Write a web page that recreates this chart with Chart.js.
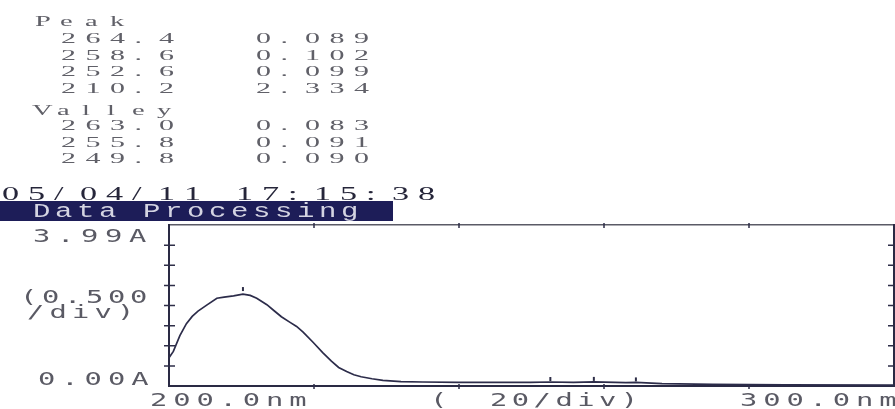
<!DOCTYPE html>
<html>
<head>
<meta charset="utf-8">
<script src="https://cdn.jsdelivr.net/npm/chart.js@4/dist/chart.umd.min.js"></script>
<style>
  body { margin: 0; background: #fff; }
  #wrap { position: relative; width: 895px; height: 409px; }
</style>
</head>
<body>
<div id="wrap"><canvas id="spec" width="895" height="409"></canvas></div>
<script>
// spectrum (nm, A)
const wavelengths = [200.0, 200.6, 201.5, 202.4, 203.2, 204.0, 205.2, 206.6, 207.6, 208.9, 210.2, 211.2, 212.1, 213.5, 214.5, 215.5, 216.7, 217.6, 218.5, 219.9, 221.2, 222.4, 223.4, 224.5, 225.5, 226.5, 228.0, 229.5, 232.0, 235.0, 240.0, 245.0, 249.8, 252.6, 255.8, 258.6, 263.0, 264.4, 268.0, 275.0, 285.0, 300.0]
const absorbance = [0.70, 0.86, 1.25, 1.55, 1.73, 1.86, 2.01, 2.18, 2.21, 2.24, 2.28, 2.25, 2.18, 2.02, 1.87, 1.72, 1.58, 1.48, 1.34, 1.08, 0.83, 0.62, 0.46, 0.36, 0.28, 0.23, 0.18, 0.14, 0.11, 0.10, 0.09, 0.09, 0.090, 0.099, 0.091, 0.102, 0.083, 0.089, 0.06, 0.04, 0.03, 0.02]

const peakNm = [264.4, 258.6, 252.6, 210.2]
const peakAbs = [0.089, 0.102, 0.099, 2.334]
const valleyNm = [263.0, 255.8, 249.8]
const valleyAbs = [0.083, 0.091, 0.090]

const stamp = '05/04/11 17:15:38'
const panelTitle = 'Data Processing'
const yTickLabels = ['3.99A', '(0.500', '/div)', '0.00A']
const xTickLabels = ['200.0nm', '(', '20/div)', '300.0nm']

// draw a string one char at a time on a fixed pitch (printer look)
function printText(ctx, str, x, y, font, pitch, sx, color) {
  ctx.save()
  ctx.font = font
  ctx.fillStyle = color
  ctx.textBaseline = 'alphabetic'
  for (let i = 0; i < str.length; i++) {
    ctx.save()
    ctx.translate(x + i * pitch, y)
    ctx.scale(sx, 1)
    ctx.fillText(str[i], 0, 0)
    ctx.restore()
  }
  ctx.restore()
}

const printout = {
  id: 'printout',
  afterDatasetsDraw(chart) {
    const ctx = chart.ctx
    const xs = chart.scales.x
    const ys = chart.scales.y
    const area = chart.chartArea
    ctx.save()
    ctx.strokeStyle = '#2e2e48'
    ctx.lineWidth = 1.5
    // y ticks, crossing the left axis and inside on the right
    for (let v = 0.5; v < 4; v += 0.5) {
      const py = ys.getPixelForValue(v)
      ctx.beginPath()
      ctx.moveTo(area.left - 5, py)
      ctx.lineTo(area.left + 6, py)
      ctx.moveTo(area.right - 6, py)
      ctx.lineTo(area.right, py)
      ctx.stroke()
    }
    // x ticks every 20 nm
    for (let w = 220; w < 300; w += 20) {
      const px = xs.getPixelForValue(w)
      ctx.beginPath()
      ctx.moveTo(px, area.top - 2)
      ctx.lineTo(px, area.top + 3)
      ctx.moveTo(px, area.bottom - 2)
      ctx.lineTo(px, area.bottom + 3)
      ctx.stroke()
    }
    // peak marks just above each peak
    ctx.lineWidth = 2
    peakNm.forEach((w, i) => {
      const px = xs.getPixelForValue(w)
      const py = ys.getPixelForValue(peakAbs[i])
      ctx.beginPath()
      ctx.moveTo(px, py - 5)
      ctx.lineTo(px, py - 1)
      ctx.stroke()
    })
    ctx.restore()
  },
  afterDraw(chart) {
    const ctx = chart.ctx
    const small = '15px "Liberation Serif"'
    const grey = '#606068'
    printText(ctx, 'Peak', 35, 26, small, 25, 1.9, grey)
    peakNm.forEach((w, i) => {
      const y = 43 + i * 16.5
      printText(ctx, w.toFixed(1), 61, y, small, 24.5, 2.0, grey)
      printText(ctx, peakAbs[i].toFixed(3), 256, y, small, 24.5, 2.0, grey)
    })
    printText(ctx, 'Valley', 32, 115, small, 25, 1.9, grey)
    valleyNm.forEach((w, i) => {
      const y = 130 + i * 16.5
      printText(ctx, w.toFixed(1), 61, y, small, 24.5, 2.0, grey)
      printText(ctx, valleyAbs[i].toFixed(3), 256, y, small, 24.5, 2.0, grey)
    })
    printText(ctx, stamp, 2, 200, '18px "Liberation Serif"', 26, 1.9, '#26263a')

    ctx.fillStyle = '#1d1d58'
    ctx.fillRect(0, 201, 393, 20)
    printText(ctx, panelTitle, 33, 217, '20px "Liberation Mono"', 22, 1.45, '#d4d4e2')

    const axisFont = '18px "DejaVu Sans Mono"'
    const axisCol = '#5a5a64'
    printText(ctx, yTickLabels[0], 33, 242, axisFont, 24, 1.6, axisCol)
    printText(ctx, yTickLabels[1], 20, 303, axisFont, 22, 1.6, axisCol)
    printText(ctx, yTickLabels[2], 27, 318, axisFont, 22.5, 1.6, axisCol)
    printText(ctx, yTickLabels[3], 38, 385, axisFont, 23.3, 1.6, axisCol)
    printText(ctx, xTickLabels[0], 150, 406, axisFont, 23.2, 1.6, axisCol)
    printText(ctx, xTickLabels[1], 430, 406, axisFont, 23, 1.6, axisCol)
    printText(ctx, xTickLabels[2], 490, 406, axisFont, 21.8, 1.6, axisCol)
    printText(ctx, xTickLabels[3], 740, 406, axisFont, 23.2, 1.6, axisCol)
  }
}

function axis(position, min, max, color, width) {
  return {
    type: 'linear',
    position: position,
    min: min,
    max: max,
    ticks: { display: false },
    grid: { display: true, drawOnChartArea: false, drawTicks: false },
    border: { display: true, color: color, width: width }
  }
}

const ctx = document.getElementById('spec').getContext('2d')
new Chart(ctx, {
  type: 'line',
  data: {
    datasets: [{
      label: 'Absorbance',
      data: wavelengths.map((w, i) => ({ x: w, y: absorbance[i] })),
      borderColor: '#2c2c4a',
      borderWidth: 1.7,
      pointRadius: 0,
      tension: 0,
      fill: false
    }]
  },
  options: {
    responsive: false,
    animation: false,
    layout: { padding: { left: 169, right: 1, top: 225, bottom: 23 } },
    plugins: { legend: { display: false }, tooltip: { enabled: false } },
    scales: {
      x: axis('bottom', 200, 300, '#2a2a44', 2),
      x2: axis('top', 200, 300, '#5a5a66', 1.5),
      y: axis('left', 0, 4, '#2a2a44', 2),
      y2: axis('right', 0, 4, '#2a2a44', 2)
    }
  },
  plugins: [printout]
})
</script>
</body>
</html>
